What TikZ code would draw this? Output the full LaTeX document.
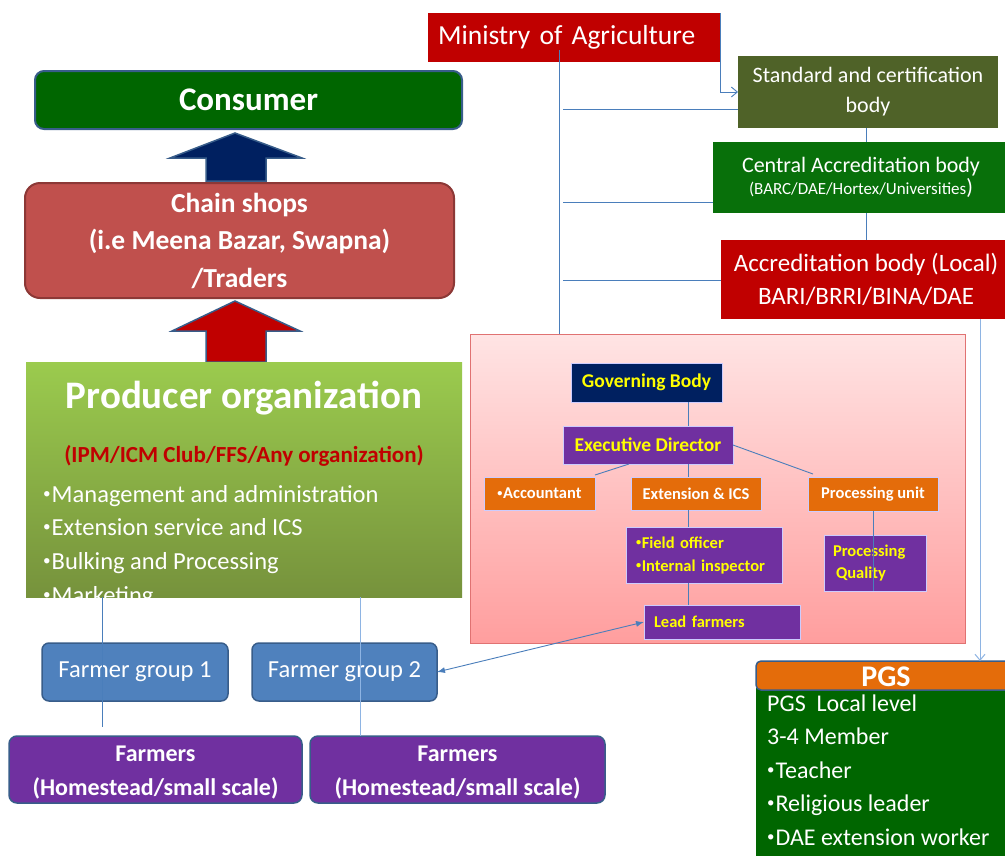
\documentclass[tikz,border=0pt]{standalone}
\usepackage{fontspec}
\setmainfont{Carlito}
\usetikzlibrary{calc,arrows.meta}

\definecolor{minred}{HTML}{C00000}
\definecolor{olivebox}{HTML}{4F6228}
\definecolor{cabgreen}{HTML}{08700A}
\definecolor{dkgreen}{HTML}{006600}
\definecolor{navybox}{HTML}{002060}
\definecolor{purplebox}{HTML}{7030A0}
\definecolor{orangebox}{HTML}{E46C0A}
\definecolor{chainred}{HTML}{C0504D}
\definecolor{chainedge}{HTML}{8C3836}
\definecolor{groupblue}{HTML}{4F81BD}
\definecolor{edgeblue}{HTML}{385D8A}
\definecolor{linkblue}{HTML}{4A7EBB}
\definecolor{lightlink}{HTML}{8EB4E3}
\definecolor{textyellow}{HTML}{FFFF00}
\definecolor{pinktop}{HTML}{FFE4E4}
\definecolor{pinkbot}{HTML}{FF9E9E}
\definecolor{pinkedge}{HTML}{E07272}
\definecolor{prodtop}{HTML}{9BCB4E}
\definecolor{prodbot}{HTML}{76923C}

\newcommand\fsz[2]{\fontsize{#1pt}{#2pt}\selectfont}
% small raised list bullet
\newcommand\bul{\raisebox{0.32ex}{\scalebox{0.62}{•}}\kern0.04em}

\begin{document}
\begin{tikzpicture}[x=1pt,y=-1pt,
  box/.style={anchor=north west, inner sep=0pt, outer sep=0pt, align=center, text=white},
  orgbox/.style={box, draw=white!80!blue, line width=0.5pt, text=textyellow, font=\bfseries\fsz{16.5}{23}},
  link/.style={draw=linkblue, line width=0.9pt},
  softlink/.style={draw=lightlink, line width=1pt},
  vtip/.style={-{Straight Barb[length=6pt,width=10pt]}},
  txt/.style={anchor=base west, inner sep=0pt, text=white}]

\useasboundingbox (0,0) rectangle (1005,855);
\clip (0,0) rectangle (1005,855);
\fill[white] (0,0) rectangle (1005,855);

% ---------- certification chain ----------
\node[box, fill=minred, minimum width=292pt, minimum height=49pt,
      text width=272pt, align=left, font=\fsz{27.5}{30}] (min) at (428,13) {Ministry of Agriculture};
\node[box, fill=olivebox, minimum width=260pt, minimum height=72pt,
      font=\fsz{22}{30}] (std) at (738,56) {Standard and certification\\body};
\node[box, fill=cabgreen, minimum width=296pt, minimum height=71pt] (cab) at (713,142)
      {\fsz{22}{30}Central Accreditation body\\[1pt]\fsz{17}{20}(BARC/DAE/Hortex/Universities\fsz{22}{20})};
\node[box, fill=minred, minimum width=290pt, minimum height=79pt,
      font=\fsz{25}{33}] (loc) at (721,240) {Accreditation body (Local)\\BARI/BRRI/BINA/DAE};

\coordinate (tapA) at (866,0);
\draw[link] (std.south -| tapA) -- (cab.north -| tapA);
\draw[link] (cab.south -| tapA) -- (loc.north -| tapA);
\draw[link, vtip] (min.north east) |- (std.west);

% ---------- producer organisation chart ----------
\node[box, draw=pinkedge, line width=1pt, top color=pinktop, bottom color=pinkbot,
      minimum width=495pt, minimum height=309pt] (pink) at (470,334) {};

\coordinate (trunk) at (559,50);
\draw[link] (trunk) -- (trunk |- pink.north);
\coordinate (b1) at (563,109);
\coordinate (b2) at (563,202);
\coordinate (b3) at (563,280);
\draw[link] (b1) -- (b1 -| std.west);
\draw[link] (b2) -- (b2 -| cab.west);
\draw[link] (b3) -- (b3 -| loc.west);

\node[orgbox, fill=navybox, minimum width=151pt, minimum height=39pt, font=\bfseries\fsz{19.5}{23}] (gov) at (571,363) {Governing Body};
\node[orgbox, fill=purplebox, minimum width=170pt, minimum height=38pt, font=\bfseries\fsz{19.5}{23}] (ed) at (563,426) {Executive Director};
\node[orgbox, fill=orangebox, text=white, minimum width=111pt, minimum height=33pt] (acc) at (484,477) {\bul Accountant};
\node[orgbox, fill=orangebox, text=white, minimum width=130pt, minimum height=33pt] (ext) at (631,477) {Extension \& ICS};
\node[orgbox, fill=orangebox, text=white, minimum width=130pt, minimum height=34pt] (pu) at (808,477) {Processing unit};
\node[orgbox, fill=purplebox, minimum width=151pt, minimum height=56pt,
      inner xsep=10pt, text width=136pt, align=left] (fo) at (626,527) {\bul Field officer\\\bul Internal inspector};
\node[orgbox, fill=purplebox, minimum width=102pt, minimum height=56pt,
      inner xsep=9pt, text width=84pt, align=left, font=\bfseries\fsz{16.5}{22}] (pq) at (824,535) {Processing\\\hspace*{3pt}Quality};
\node[orgbox, fill=purplebox, minimum width=156pt, minimum height=34pt,
      inner xsep=10pt, text width=136pt, align=left] (lf) at (644,605) {Lead farmers};

\coordinate (spine) at (688,0);
\draw[link] (gov.south -| spine) -- (ed.north -| spine);
\draw[link] (ed.south -| spine) -- (ext.north -| spine);
\draw[link] (ext.south -| spine) -- (fo.north -| spine);
\draw[link] (fo.south -| spine) -- (lf.north -| spine);
\draw[link] ([xshift=-19pt]ed.south) -- ([yshift=2pt]acc.north east);
\draw[link] (ed.east) -- ([xshift=5pt,yshift=3pt]pu.north west);
\draw[link] (pu.south) -- (pu.south |- pq.south);

% ---------- market chain ----------
\node[box, fill=dkgreen, draw=edgeblue, line width=2pt, rounded corners=9pt,
      minimum width=427pt, minimum height=58pt, font=\bfseries\fsz{33}{36}] (cons) at (35,71) {Consumer};
\node[box, fill=chainred, draw=chainedge, line width=2pt, rounded corners=15pt,
      minimum width=429pt, minimum height=115pt, font=\bfseries\fsz{27.5}{37.5}] (chain) at (25,183)
      {Chain shops\\(i.e Meena Bazar, Swapna)\\/Traders};

\filldraw[fill=navybox, draw=edgeblue, line width=1.5pt, line join=miter]
  (206,181) -- (206,158) -- (170,158) -- (235,133) -- (302,158) -- (266,158) -- (266,181) -- cycle;
\filldraw[fill=minred, draw=edgeblue, line width=1.5pt, line join=miter]
  (206,362) -- (206,331) -- (172,331) -- (235,301) -- (300,331) -- (266,331) -- (266,362) -- cycle;

\node[box, top color=prodtop, bottom color=prodbot, minimum width=436pt, minimum height=235pt] (prod) at (26,362) {};
\begin{scope}
  \clip (prod.north west) rectangle (prod.south east);
  \node[anchor=base, inner sep=0pt, text=white, font=\bfseries\fsz{39}{40}] (prodTitle) at (244,408) {Producer organization};
  \node[anchor=base, inner sep=0pt, text=minred, font=\bfseries\fsz{23}{25}] (prodSub) at (244,462) {(IPM/ICM Club/FFS/Any organization)};
  \node[txt, font=\fsz{24.5}{26}] (pb1) at (43,502) {\bul Management and administration};
  \node[txt, font=\fsz{24.5}{26}] (pb2) at (43,535) {\bul Extension service and ICS};
  \node[txt, font=\fsz{24.5}{26}] (pb3) at (43,569) {\bul Bulking and Processing};
  \node[txt, font=\fsz{24.5}{26}] (pb4) at (43,603) {\bul Marketing};
\end{scope}

% ---------- farmer groups ----------
\node[box, fill=groupblue, draw=edgeblue, line width=1.5pt, rounded corners=7pt,
      minimum width=186pt, minimum height=58pt, font=\fsz{24.5}{26}] (fg1) at (42,643) {Farmer group 1};
\node[box, fill=groupblue, draw=edgeblue, line width=1.5pt, rounded corners=7pt,
      minimum width=185pt, minimum height=58pt, font=\fsz{24.5}{26}] (fg2) at (252,643) {Farmer group 2};
\node[box, fill=purplebox, draw=edgeblue, line width=1.5pt, rounded corners=8pt,
      minimum width=293pt, minimum height=67pt, font=\bfseries\fsz{24}{34}] (far1) at (9,736)
      {\rule{0pt}{22pt}Farmers\\(Homestead/small scale)};
\node[box, fill=purplebox, draw=edgeblue, line width=1.5pt, rounded corners=8pt,
      minimum width=295pt, minimum height=67pt, font=\bfseries\fsz{24}{34}] (far2) at (310,736)
      {\rule{0pt}{22pt}Farmers\\(Homestead/small scale)};

\coordinate (drop1end) at (102,727);
\coordinate (drop2) at (360,0);
\draw[link] (prod.south -| drop1end) -- (drop1end);
\draw[softlink] (prod.south -| drop2) -- (far2.north -| drop2);

\draw[link, {Latex[length=8pt,width=6pt]}-{Latex[length=8pt,width=6pt]}] (fg2.east) -- (lf.west);

% ---------- PGS ----------
\node[box, fill=dkgreen, minimum width=252pt, minimum height=170pt] (pgsbody) at (756,688) {};
\node[box, fill=orangebox, draw=edgeblue, line width=1.5pt, rounded corners=5pt,
      minimum width=262pt, minimum height=29pt] (pgshead) at (756,661) {};
\node[anchor=base, inner sep=0pt, text=white, font=\bfseries\fsz{30}{31}] (pgstitle) at (886,686) {PGS};
\node[txt, font=\fsz{24}{26}] (pg1) at (767,711) {PGS\ \ Local level};
\node[txt, font=\fsz{24}{26}] (pg2) at (767,744) {3-4 Member};
\node[txt, font=\fsz{24}{26}] (pg3) at (767,778) {\bul Teacher};
\node[txt, font=\fsz{24}{26}] (pg4) at (767,811) {\bul Religious leader};
\node[txt, font=\fsz{24}{26}] (pg5) at (767,845) {\bul DAE extension worker};

\coordinate (pgsTap) at (980,0);
\draw[softlink, vtip] (loc.south -| pgsTap) -- (pgshead.north -| pgsTap);

\end{tikzpicture}
\end{document}
